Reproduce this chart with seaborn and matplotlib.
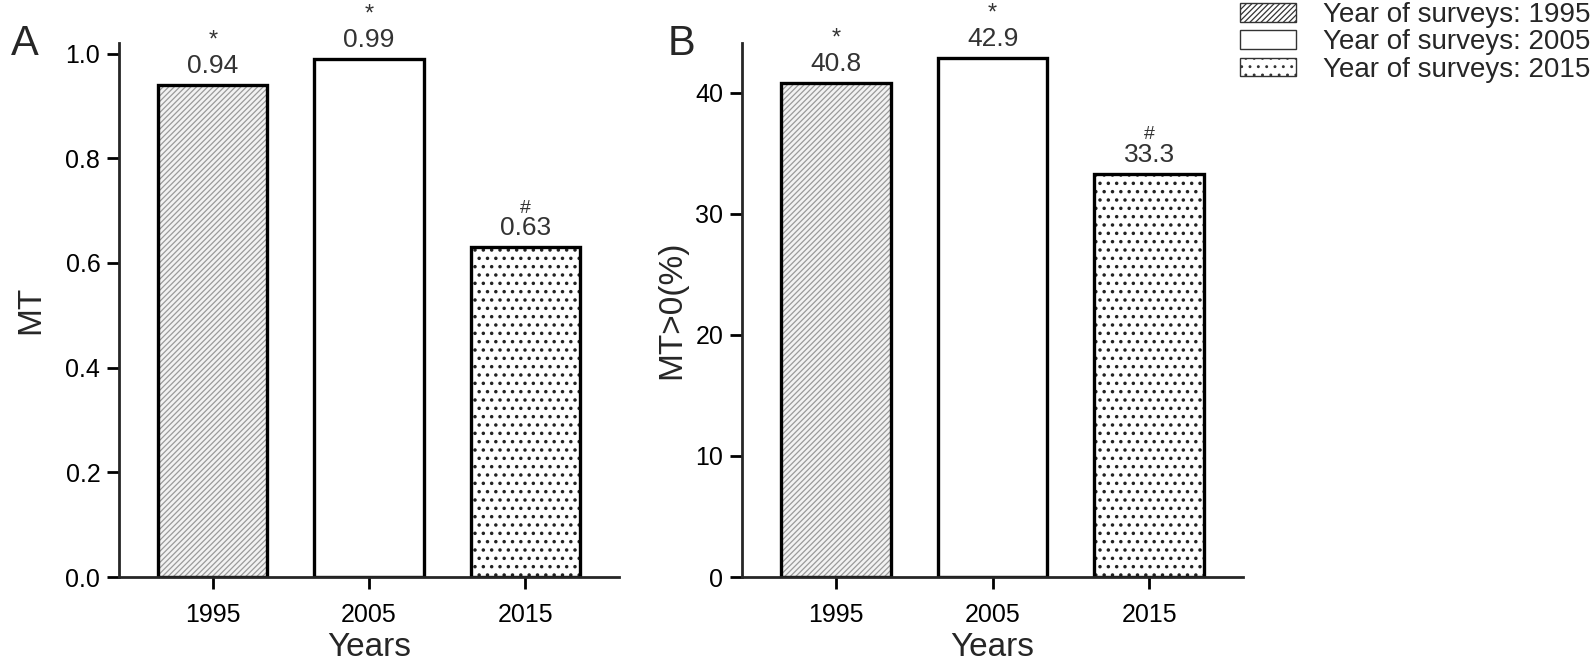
import pandas as pd
import matplotlib
matplotlib.use('Agg')
import matplotlib.pyplot as plt
import matplotlib.patches as mpatches
import seaborn as sns

# Data
years = ['1995', '2005', '2015']
mt_mean = [0.94, 0.99, 0.63]
mt_pos_pct = [40.8, 42.9, 33.3]
sig_marks = ['*', '*', '#']
hatches = ['//////', '', '..']
legend_labels = ['Year of surveys: 1995', 'Year of surveys: 2005', 'Year of surveys: 2015']

df = pd.DataFrame({'Years': years, 'MT': mt_mean, 'MTpos': mt_pos_pct})

sns.set_style('ticks')
plt.rcParams['font.family'] = ['Liberation Sans', 'DejaVu Sans']
plt.rcParams['hatch.linewidth'] = 0.9

fig = plt.figure(figsize=(15.94, 6.64), dpi=100)
ax_a = fig.add_axes([0.0747, 0.131, 0.3136, 0.804])
ax_b = fig.add_axes([0.4655, 0.131, 0.3145, 0.804])


def draw_panel(ax, col, ylim, yticks, yticklabels, ylabel, fmt, ylabelpad):
    # hatch layer first (gray hatch for 1995), then black outlines on top
    sns.barplot(data=df, x='Years', y=col, color='white', width=0.7,
                saturation=1, ax=ax, linewidth=0)
    for patch, h, yr in zip(ax.patches, hatches, years):
        patch.set_hatch(h)
        patch.set_linewidth(0)
        if yr == '1995':
            patch.set_edgecolor('#9a9a9a')
            patch.set_facecolor('#f2f2f2')
        else:
            patch.set_edgecolor('#222222')
            if hasattr(patch, 'set_hatch_linewidth'):
                patch.set_hatch_linewidth(1.3)
    sns.barplot(data=df, x='Years', y=col, fill=False, width=0.7,
                edgecolor='black', linewidth=2.4, ax=ax)

    # value labels and significance marks
    for i, v in enumerate(df[col]):
        ax.annotate(fmt.format(v), xy=(i, v), xytext=(0, 5), textcoords='offset points',
                    ha='center', va='bottom', fontsize=19, color='#333333')
        if sig_marks[i] == '*':
            ax.annotate('*', xy=(i, v), xytext=(0, 24), textcoords='offset points',
                        ha='center', va='bottom', fontsize=17, color='#333333')
        else:
            ax.annotate('#', xy=(i, v), xytext=(0, 22), textcoords='offset points',
                        ha='center', va='bottom', fontsize=14, color='#333333')

    ax.set_xlim(-0.6, 2.6)
    ax.set_ylim(*ylim)
    ax.set_yticks(yticks)
    ax.set_yticklabels(yticklabels)
    ax.set_xlabel('Years', fontsize=24, labelpad=4)
    ax.set_ylabel(ylabel, fontsize=24, labelpad=ylabelpad)
    ax.tick_params(axis='both', labelsize=18, length=8.5, width=2.0, colors='black', pad=5)
    ax.tick_params(axis='x', pad=10)
    for s in ['left', 'bottom']:
        ax.spines[s].set_linewidth(2.0)
    sns.despine(ax=ax)


draw_panel(ax_a, 'MT', (0, 1.02), [0, 0.2, 0.4, 0.6, 0.8, 1.0],
           ['0.0', '0.2', '0.4', '0.6', '0.8', '1.0'], 'MT', '{:.2f}', 14)
draw_panel(ax_b, 'MTpos', (0, 44.1), [0, 10, 20, 30, 40],
           ['0', '10', '20', '30', '40'], 'MT>0(%)', '{:.1f}', 6)

fig.text(0.007, 0.933, 'A', fontsize=30, va='center', ha='left')
fig.text(0.419, 0.933, 'B', fontsize=30, va='center', ha='left')

handles = []
for h, lab in zip(hatches, legend_labels):
    handles.append(mpatches.Patch(facecolor='white', edgecolor='#333333', hatch=h,
                                  linewidth=1, label=lab))
fig.legend(handles=handles, loc='upper right', bbox_to_anchor=(0.998, 0.997), frameon=False,
           fontsize=20, handlelength=2.0, handleheight=0.65, handletextpad=1.0,
           labelspacing=0.05, borderaxespad=0, borderpad=0)

fig.savefig('out.png', dpi=100)
